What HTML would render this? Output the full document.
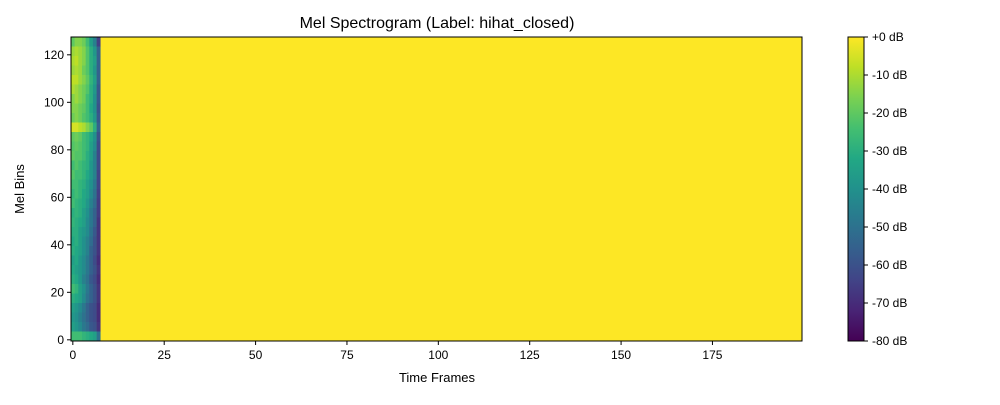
<!DOCTYPE html>
<html><head><meta charset="utf-8"><style>
body{margin:0;background:#fff;}
svg text{font-family:"Liberation Sans",sans-serif;fill:#000;}
</style></head><body>
<svg id="c" width="1000" height="400" xmlns="http://www.w3.org/2000/svg">
<defs><linearGradient id="vg" x1="0" y1="1" x2="0" y2="0"></linearGradient></defs>
<text x="437" y="28" font-size="16" text-anchor="middle">Mel Spectrogram (Label: hihat_closed)</text>
<text x="437" y="382" font-size="13" text-anchor="middle">Time Frames</text>
<text transform="translate(24,189) rotate(-90)" font-size="13" text-anchor="middle">Mel Bins</text>
<g id="heat"></g>
<rect x="71" y="37" width="731" height="304" fill="none" stroke="#000" stroke-width="1"/>
<g id="axes"></g>
<rect x="848" y="37" width="16" height="304" fill="url(#vg)" stroke="#000" stroke-width="1"/>
<g id="cbt"></g>
</svg>
<script>
const nFrames = 200;
const nBins = 128;
const binGroup = 4;
// rows top (bins 124-127) to bottom (bins 0-3), columns = frames 0..7 (dB); other frames are 0 dB
const dbMatrix = [
[-20,-15,-15,-18,-25,-35,-45,-65],
[-12,-10,-12,-15,-22,-30,-38,-55],
[-10,-8,-12,-15,-22,-30,-35,-55],
[-12,-10,-12,-18,-22,-30,-38,-55],
[-8,-8,-12,-15,-20,-28,-35,-55],
[-10,-12,-15,-18,-22,-30,-38,-58],
[-15,-12,-15,-18,-25,-30,-40,-58],
[-15,-15,-18,-20,-25,-32,-40,-60],
[-18,-15,-18,-22,-25,-30,-38,-58],
[-5,-5,-8,-10,-15,-20,-30,-55],
[-20,-18,-20,-25,-28,-32,-40,-60],
[-22,-20,-22,-25,-28,-35,-42,-62],
[-20,-22,-22,-25,-30,-35,-45,-62],
[-25,-22,-25,-28,-30,-38,-45,-62],
[-22,-25,-25,-28,-32,-38,-45,-64],
[-25,-25,-28,-30,-35,-40,-48,-64],
[-28,-25,-28,-32,-35,-42,-50,-65],
[-25,-28,-30,-32,-38,-45,-52,-66],
[-30,-28,-30,-35,-40,-48,-55,-66],
[-28,-30,-32,-35,-42,-48,-55,-68],
[-30,-30,-35,-38,-42,-50,-58,-68],
[-32,-30,-35,-40,-45,-52,-60,-68],
[-30,-32,-35,-40,-45,-55,-60,-68],
[-35,-32,-38,-42,-48,-55,-62,-70],
[-32,-35,-38,-42,-48,-55,-60,-68],
[-30,-32,-38,-45,-50,-58,-62,-70],
[-25,-28,-35,-40,-48,-55,-60,-68],
[-30,-32,-35,-42,-50,-55,-60,-68],
[-35,-38,-42,-48,-55,-60,-62,-70],
[-38,-40,-45,-50,-55,-60,-62,-70],
[-35,-38,-42,-48,-52,-58,-60,-68],
[-25,-25,-25,-28,-30,-32,-35,-50]
];
const xTicks = [0,25,50,75,100,125,150,175];
const yTicks = [0,20,40,60,80,100,120];
const cbTicks = [0,-10,-20,-30,-40,-50,-60,-70,-80];
const vmin = -80, vmax = 0;

const NS="http://www.w3.org/2000/svg";
const L=71,R=802,T=37,B=341;
const xs=f=>L+(f+0.5)/nFrames*(R-L);
const ys=b=>B-(b+0.5)/nBins*(B-T);
const stops=["#440154","#482475","#414487","#355f8d","#2a788e","#21918c","#22a884","#44bf70","#7ad151","#bddf26","#fde725"];
function hex(h){return [1,3,5].map(i=>parseInt(h.substr(i,2),16));}
function cmap(v){let t=(v-vmin)/(vmax-vmin);t=Math.max(0,Math.min(1,t));const p=t*(stops.length-1);const i=Math.min(stops.length-2,Math.floor(p));const f=p-i;const a=hex(stops[i]),b=hex(stops[i+1]);return "rgb("+a.map((x,k)=>Math.round(x+(b[k]-x)*f)).join(",")+")";}
function mk(tag,attrs,parent){const e=document.createElementNS(NS,tag);for(const k in attrs)e.setAttribute(k,attrs[k]);parent.appendChild(e);return e;}
const heat=document.getElementById('heat');
const bg=mk('rect',{x:xs(-0.5),y:T,width:R-xs(-0.5),height:B-T,fill:cmap(0)},heat);


dbMatrix.forEach((row,ri)=>{
  const bTop=nBins-1-ri*binGroup, bBot=bTop-binGroup+1;
  row.forEach((v,c)=>{
    const x0=xs(c-0.5),x1=xs(c+0.5);
    const y0=ys(bTop+0.5),y1=ys(bBot-0.5);
    const r=mk('rect',{x:x0,y:y0,width:x1-x0+0.3,height:y1-y0+0.3,fill:cmap(v)},heat);
    
    
  });
});
const axes=document.getElementById('axes');
xTicks.forEach(t=>{const x=xs(t);
  const l=mk('line',{x1:x,x2:x,y1:B,y2:B+4,stroke:'#000'},axes);
  
  
  const tx=mk('text',{x:x,y:B+18,'font-size':12,'text-anchor':'middle'},axes);tx.textContent=t;
  
  
});
yTicks.forEach(t=>{const y=ys(t);
  const l=mk('line',{x1:L-4,x2:L,y1:y,y2:y,stroke:'#000'},axes);
  
  
  const tx=mk('text',{x:L-7,y:y+4,'font-size':12,'text-anchor':'end'},axes);tx.textContent=t;
  
  
});
const vg=document.getElementById('vg');
stops.forEach((s,i)=>mk('stop',{offset:i/(stops.length-1),'stop-color':s},vg));
const cbt=document.getElementById('cbt');
cbTicks.forEach(t=>{const y=T+(vmax-t)/(vmax-vmin)*(B-T);
  const l=mk('line',{x1:864,x2:868,y1:y,y2:y,stroke:'#000'},cbt);
  
  
  const tx=mk('text',{x:872,y:y+4,'font-size':12},cbt);tx.textContent=(t===0?'+0':t)+' dB';
  
  
});
</script>
</body></html>
